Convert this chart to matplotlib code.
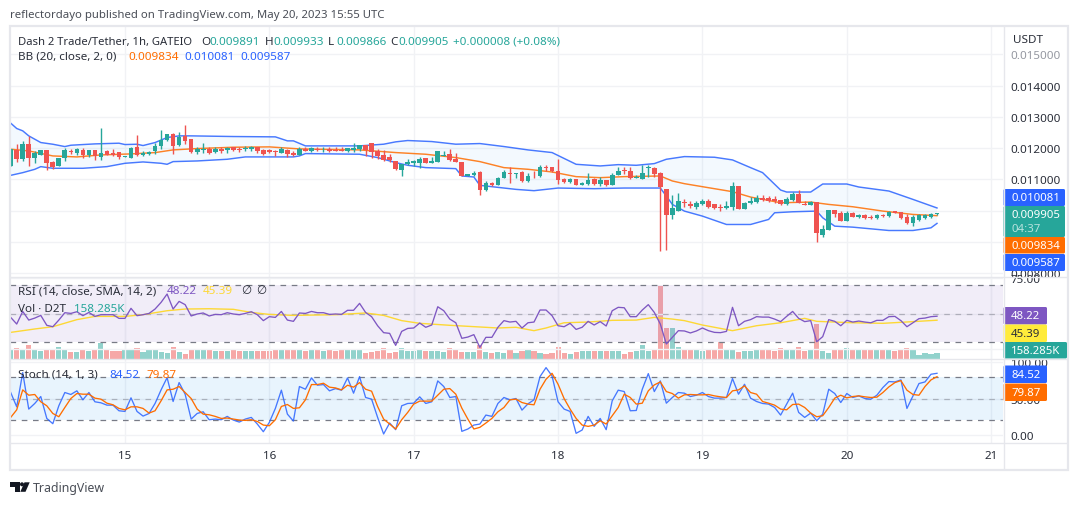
import numpy as np
import matplotlib
matplotlib.use("Agg")
import matplotlib.pyplot as plt
from matplotlib.patches import FancyBboxPatch, Polygon, Circle, Rectangle

W, H = 1079, 506
plt.rcParams['font.family'] = ['Noto Sans', 'DejaVu Sans']

# Prices are in millionths of a USDT; one bar per hour, from 14 May 05:00
opens = [11428,11932,11642,12124,11696,11781,11932,11556,11428,11674,11899,11856,11932,11771,11932,11717,11899,11835,11867,11717,
 11674,12028,11792,11824,11899,12060,12274,12446,12092,12392,12285,11867,11942,11985,11878,11964,11942,12028,11964,11964,
 11964,12028,11932,11932,11910,11835,11932,11846,11781,11964,11910,11964,11932,11964,11942,11942,11910,11932,
 11964,12092,12157,11899,11771,11707,11578,11299,11492,11514,11514,11674,11524,11556,11749,11803,11642,11546,11106,11128,
 11224,10645,10870,10817,11042,11213,11181,11235,10935,11106,11096,11385,11406,11278,11000,10913,11021,10827,10838,11000,
 10849,10967,10817,11138,11299,11278,11042,11021,11374,11353,11192,10677,9841,9970,
 10281,10195,10120,10195,10292,10195,10099,10067,10109,10774,10045,10227,10270,10388,10399,10356,10324,10195,10324,10517,
 10217,10174,10270,9230,9391,10002,9906,9648,9906,9777,9852,9777,9745,9852,9809,9981,9938,9777,9584,9681,9766,9777,9891]
highs = [11964,12124,12232,12392,11910,11932,11932,11588,11696,12017,11985,12017,11996,11932,11932,12660,11942,11964,11867,11738,
 12039,12414,11910,11910,12178,12575,12446,12478,12500,12735,12285,12049,12178,12049,12049,12049,12049,12049,12049,12071,
 12071,12049,11985,11985,11942,12049,11964,11910,12049,12049,12049,12049,12028,12028,12028,12049,12017,12178,
 12103,12103,12157,11964,11942,11803,11578,11503,11642,11621,11728,11674,11728,11899,11910,11964,11835,11546,11170,11256,
 11278,10935,10913,11085,11288,11385,11213,11267,11213,11267,11471,11471,11406,11642,11031,11042,11021,10913,11192,11031,
 11085,10978,11213,11385,11406,11385,11128,11471,11449,11406,11235,10677,10484,10570,
 10356,10313,10302,10356,10356,10217,10195,10292,10903,10774,10260,10431,10485,10485,10463,10452,10345,10420,10603,10645,
 10302,10302,10270,9520,10002,10002,9970,9970,9949,9884,9874,9841,9874,9895,9970,9981,9959,9874,9863,9874,9874,9906,9933]
lows = [11428,11556,11588,11428,11513,11781,11299,11342,11428,11588,11824,11781,11696,11728,11620,11620,11771,11749,11663,11717,
 11674,11749,11749,11781,11824,11964,12232,11803,12071,12124,11856,11803,11856,11803,11856,11835,11856,11910,11878,11910,
 11910,11856,11792,11835,11749,11835,11728,11749,11771,11899,11889,11899,11889,11889,11899,11899,11889,11889,
 11910,11749,11674,11664,11589,11556,11299,11106,11449,11428,11374,11524,11524,11556,11749,11589,11546,11106,11106,11106,
 10495,10613,10785,10806,11031,10881,11042,10913,10913,11053,11063,11267,11245,10838,10870,10892,10817,10806,10817,10827,
 10785,10785,10806,11128,11160,11000,11031,11000,11085,11085,8694,8748,9713,9970,
 10120,10088,10034,10174,10067,10034,9981,10034,10013,10034,10034,10195,10249,10292,10270,10249,10185,10185,10302,10227,
 10163,10163,8984,9145,9391,9777,9648,9648,9777,9745,9734,9734,9734,9777,9788,9916,9734,9563,9488,9670,9713,9756,9866]
closes = [11964,11642,12124,11696,11835,11932,11524,11406,11696,11932,11867,11964,11771,11932,11749,11856,11792,11792,11717,11738,
 11996,11771,11846,11878,12060,12253,12446,12071,12371,12232,11867,11964,11985,11846,11964,11910,11996,11942,11942,11996,
 12028,11910,11814,11867,11889,11985,11814,11781,11964,11921,11996,11932,11953,11921,11921,11921,11996,11996,
 12103,11942,11878,11749,11621,11610,11321,11503,11546,11578,11642,11524,11578,11899,11792,11621,11556,11106,11170,11213,
 10656,10870,10817,11053,11235,11181,11213,10935,11096,11096,11406,11374,11256,10978,10913,11021,10827,10881,10988,10838,
 10967,10817,11149,11278,11278,11031,11074,11213,11396,11170,10752,9841,10066,10302,
 10238,10131,10227,10302,10120,10067,10077,10131,10774,10045,10227,10292,10399,10324,10313,10292,10195,10356,10517,10238,
 10174,10270,9263,9423,10002,9874,9648,9906,9788,9841,9745,9766,9852,9831,9938,9916,9745,9584,9777,9852,9852,9874,9905]

bb_upper_hours = [0,1,2,3,5,7,9,10,14,18,19,21,22,24,26,28,30,37,44,46,47,49,58,62,64,66,70,74,78,82,86,90,94,98,101,104,107,109,112,117,120,123,125,128,129,133,135,139,141,146,150,154]
bb_upper = [12800,12628,12553,12392,12178,12124,12049,12092,12135,12157,12114,12124,12082,12178,12339,12392,12392,12371,12360,12232,12232,12071,12071,12125,12200,12243,12210,12125,12146,12050,11942,11857,11481,11428,11470,11449,11503,11642,11728,11707,11621,11374,11214,10656,10592,10592,10849,10849,10753,10624,10356,10081]
bb_lower_hours = [0,2,4,5,7,12,16,19,22,25,26,27,31,36,39,43,47,48,49,58,61,64,66,69,74,75,77,78,80,84,87,91,97,102,108,109,110,112,115,119,123,126,127,130,134,135,137,140,146,150,153,154]
bb_lower = [11127,11213,11320,11406,11353,11353,11406,11513,11556,11513,11481,11567,11588,11642,11717,11717,11717,11749,11824,11803,11696,11535,11449,11374,11342,11106,11074,10806,10763,10677,10635,10720,10699,10720,10720,10463,10195,9981,9820,9552,9552,9713,9927,9959,9981,9766,9498,9466,9359,9359,9445,9587]
bb_basis_hours = [0,3,7,11,15,20,24,27,31,37,43,48,58,64,69,74,78,82,86,90,94,98,102,108,110,112,116,120,123,128,133,136,140,145,150,154]
bb_basis = [11964,11910,11749,11717,11781,11814,11856,11942,11985,12028,12039,11974,11942,11857,11803,11696,11567,11374,11321,11235,11085,11053,11085,11106,10946,10860,10731,10603,10431,10249,10270,10195,10120,9981,9874,9834]

volume_k = [270,300,240,390,240,220,290,270,330,240,200,200,240,220,240,450,250,210,230,240,
 240,300,180,240,240,200,160,330,200,140,250,240,240,240,220,220,220,240,220,210,
 210,210,230,210,270,240,240,240,240,220,240,240,220,240,220,240,240,240,240,150,
 200,210,300,150,180,300,210,210,240,210,210,210,190,300,280,180,200,200,400,200,150,200,
 150,270,150,220,240,210,170,120,150,330,150,140,190,210,210,210,210,210,210,210,130,180,210,390,210,240,
 2170,920,900,330,240,240,240,210,270,260,480,270,270,180,210,210,240,260,240,210,300,240,240,330,210,240,
 1020,210,150,240,270,300,240,240,240,240,270,240,260,210,240,300,270,100,150,120,158.285]

rsi = [47.4,42.7,51.6,45.5,46.9,48.8,41.8,40.8,45.5,50.7,50.2,51.4,48.6,50.9,48.1,49.3,49.3,49.3,46.7,46.7,
 53.8,48.6,49.3,50.2,53.3,58,63.9,53.3,58.7,56.4,48.4,49.8,50.5,48.4,49.5,49.3,50.7,49.8,49.3,50.2,
 51.4,49.3,45.1,47.9,47.4,51.6,45.5,44.6,50.5,50.2,51.6,50.7,50.7,49.5,49.8,49.5,52.4,52.4,57.3,50.9,
 47.9,41.5,36.6,36.1,27.6,37.5,39.6,39.9,43.4,40.4,42,54.9,52.1,46.2,43.6,32.6,33.5,35.2,26.2,33.3,33.3,40.4,
 45.1,44.1,44.6,39.9,43.6,44.1,52.6,52.6,48.6,41.5,40.8,43.2,38.9,40.4,44.6,42,44.4,41.3,52.1,54.5,54.2,47.9,47.9,52.6,56.4,50.9,42.7,
 28.6,33.3,38,37.8,36.4,37.8,39.9,38,36.8,36.6,37.5,54.5,41.5,44.6,45.8,47.9,47.6,47.6,46.2,44.4,48.1,51.6,46.7,44.4,45.1,
 30.2,33.8,45.8,44.6,41.5,45.3,44.1,44.8,44.1,43.6,45.3,45.3,47.9,48.1,45.1,40.8,43.6,46.5,46.9,47.9,48.22]
rsi_ma_hours = [0,4,7,11,14,19,22,26,29,33,37,40,43,47,54,59,62,65,68,73,81,84,87,89,92,96,100,104,107,110,112,115,120,124,128,132,134,140,145,148,154]
rsi_ma = [36.8,39.2,40.8,45.8,48.1,48.1,49.3,52.1,53.3,53.5,53.1,50.9,49.5,48.8,49.3,50.5,48.8,45.1,43.2,41.8,39.9,40.4,38,39.9,43.6,44.1,45.3,45.5,47.4,46.2,45.1,42,38,41.5,43.6,46.7,44.6,43.6,43.2,43.9,45.39]

stoch_k = [58.2,38.6,85.5,35.5,43.2,52.7,22.7,15.5,40,58.2,55.5,60.5,48.2,58.2,45.5,44.1,40.9,40.9,33.2,32.3,
 50.9,32.3,25.9,29.5,43.2,61.8,78.6,45.9,71.8,55.9,21.8,29.5,31.8,20.9,21.8,20.9,25.5,20.5,17.7,21.8,
 24.1,15,4.5,17.3,36.4,61.4,28.6,19.1,66.4,62.7,78.2,68.2,69.1,60.5,63.6,61.4,78.2,57.3,80,51.4,
 49.1,24.1,1.4,16.4,7.3,40,43.2,43.6,52.3,43.2,45.5,74.1,66.4,51.4,52.7,5,8.2,13.6,15,27.3,25.5,43.2,
 51.4,48.2,50,34.1,42.7,48.2,80,92.3,80.9,45.5,35.5,32.3,2.3,6.8,25.5,11.8,22.7,7.3,46.8,61.4,59.5,33.2,33.6,62.7,84.1,59.5,74.1,
 43.6,51.4,58.2,57.3,52.7,54.5,58.2,52.7,50.5,50.5,51.4,77.3,55.9,69.5,50.5,45.9,43.2,42.3,37.7,27.3,42.3,57.3,30.9,24.1,30,
 19.5,28.6,62.7,56.8,44.5,56.8,51.4,53.6,50,49.1,54.5,65,73.2,72.7,75.5,36.4,53.6,70.5,72.7,83.2,84.52]
stoch_d = [24.1,34.5,61.8,54.5,55.5,45.5,40,29.5,25,37.7,50,56.8,55.9,55.9,50.5,49.1,43.6,41.4,36.4,34.5,
 38.6,38.6,36.4,30,33.2,46.8,61.8,62.7,66.4,58.2,50,35.5,28.6,27.7,25.5,22.7,23.2,21.8,20.5,20,
 20.9,18.6,13.6,12.7,20.9,39.1,41.8,36.4,37.3,48.2,69.1,69.1,70.9,65.5,64.5,61.8,68.2,65.5,71.8,62.7,
 60,39.1,21.8,15,8.2,20.9,30.9,42.3,46.4,46.4,46.4,54.5,62.7,63.6,55.9,36.8,21.8,8.2,10.5,16.4,22.7,31.8,
 37.7,48.2,49.1,44.5,42.3,41.4,62.7,76.4,84.5,69.5,50,35.5,22.7,13.6,11.8,13.6,19.5,15,26.4,37.7,55.9,51.4,42.3,43.6,60.5,68.6,72.7,
 59.5,56.8,50.5,55,55.5,55,55,55.5,53.6,52.3,51.4,60.5,61.8,67.3,58.2,55.9,45.9,43.6,40.9,35.5,34.5,41.8,42.3,37.7,30,25,
 26.4,37.7,50.5,54.5,50.9,52.7,53.6,52.3,51.4,51.8,58.2,65.9,71.8,74.5,61.4,55.5,54.5,66.4,75.5,79.87]

day_hours = [19,43,67,91,115,139,163]
day_labels = ['15','16','17','18','19','20','21']
price_ticks = [8000,9000,10000,11000,12000,13000,14000,15000]
price_tick_labels = ['0.008000','','','0.011000','0.012000','0.013000','0.014000','0.015000']
rsi_ticks = [25,50,75]
rsi_tick_labels = ['','','75.00']
stoch_ticks = [0,50,100]
stoch_tick_labels = ['0.00','50.00','100.00']

for name, a in dict(highs=highs, lows=lows, closes=closes, volume_k=volume_k, rsi=rsi, stoch_k=stoch_k, stoch_d=stoch_d).items():
    assert len(a) == len(opens), (name, len(a), len(opens))

UP, DOWN = '#26a69a', '#ef5350'
BLUE, ORANGE, PURPLE, YELLOW = '#2962ff', '#ff6d00', '#7e57c2', '#ffeb3b'
GRID, FRAME, TEXT = '#f1f2f5', '#e6e7ec', '#2a2e39'
FS = 8.4

hours = np.arange(len(opens))
o, h, l, c = [np.array(a) / 1e6 for a in (opens, highs, lows, closes)]
is_up = c >= o
cols = np.where(is_up, UP, DOWN)

fig = plt.figure(figsize=(W / 100, H / 100), dpi=100, facecolor='white')

def pane(x0, y0, x1, y1, **kw):
    return fig.add_axes([x0 / W, 1 - y1 / H, (x1 - x0) / W, (y1 - y0) / H], **kw)

X0, X1 = 10, 1003
xlim = ((X0 - 10.7) / 6.015, (X1 - 10.7) / 6.015)

ax = pane(X0, 27, X1, 277.5)
ax_vol = pane(X0, 278, X1, 359.5)
ax_rsi = pane(X0, 278, X1, 359.5)
ax_st = pane(X0, 360, X1, 443.5)

for a in (ax, ax_vol, ax_rsi, ax_st):
    a.set_xlim(*xlim)
    a.set_xticks(day_hours)
    a.grid(True, color=GRID, lw=1)
    a.set_axisbelow(True)
    for s in a.spines.values():
        s.set_visible(False)
    a.yaxis.tick_right()
    a.tick_params(length=0, labelsize=FS, labelcolor=TEXT, labelbottom=False, labelleft=False, labelright=True,
                  left=False, right=False, bottom=False)
    a.tick_params(axis='y', pad=5.5)

# price pane
ax.set_ylim((11000 + (180.3 - 277.5) * 32.05) / 1e6, (11000 + (180.3 - 27) * 32.05) / 1e6)
ax.set_yticks([p / 1e6 for p in price_ticks])
ax.set_yticklabels(price_tick_labels)
ax.yaxis.get_major_ticks()[-1].label2.set_color('#9598a1')

ub = np.array(bb_upper) / 1e6
lb = np.array(bb_lower) / 1e6
ax.fill(np.r_[bb_upper_hours, bb_lower_hours[::-1]], np.r_[ub, lb[::-1]], color='#2196f3', alpha=0.05, lw=0, zorder=1)
ax.plot(bb_upper_hours, ub, color=BLUE, lw=1.05, alpha=0.85, zorder=2)
ax.plot(bb_lower_hours, lb, color=BLUE, lw=1.05, alpha=0.85, zorder=2)
ax.plot(bb_basis_hours, np.array(bb_basis) / 1e6, color=ORANGE, lw=1.05, alpha=0.85, zorder=2)
ax.vlines(hours, l, h, colors=cols, lw=1.0, zorder=3)
ax.bar(hours, np.maximum(np.abs(c - o), 2e-5), bottom=np.minimum(o, c), width=0.78, color=cols, lw=0, zorder=4)

# RSI and volume pane
ax_vol.set_ylim(0, 2439)
ax_vol.set_yticks([])
ax_vol.bar(hours, volume_k, width=0.85, color=cols, alpha=0.5, lw=0, zorder=2)
ax_rsi.patch.set_visible(False)
ax_rsi.set_ylim(50 - (359.5 - 314.7) / 1.415, 50 + (314.7 - 278) / 1.415)
ax_rsi.set_yticks(rsi_ticks)
ax_rsi.set_yticklabels(rsi_tick_labels)
ax_rsi.axhspan(30, 70, color=PURPLE, alpha=0.1, lw=0, zorder=1)
for v, a_ in ((70, 1), (50, 0.5), (30, 1)):
    ax_rsi.axhline(v, color='#787b86', lw=0.9, dashes=(4.5, 4.5), alpha=a_, zorder=2)
ax_rsi.plot(rsi_ma_hours, rsi_ma, color='#fdd835', lw=1.0, zorder=3)
ax_rsi.plot(hours, rsi, color=PURPLE, lw=0.95, zorder=4)

# stochastic pane
ax_st.set_ylim(50 - (443.5 - 399.5) / 0.73, 50 + (399.5 - 360) / 0.73)
ax_st.set_yticks(stoch_ticks)
ax_st.set_yticklabels(stoch_tick_labels)
ax_st.axhspan(20, 80, color='#2196f3', alpha=0.1, lw=0, zorder=1)
for v, a_ in ((80, 1), (50, 0.5), (20, 1)):
    ax_st.axhline(v, color='#787b86', lw=0.9, dashes=(4.5, 4.5), alpha=a_, zorder=2)
ax_st.plot(hours, stoch_k, color=BLUE, lw=0.95, alpha=0.85, zorder=3)
ax_st.plot(hours, stoch_d, color=ORANGE, lw=0.95, zorder=4)
ax_st.set_xticks(day_hours)
ax_st.set_xticklabels(day_labels)
ax_st.tick_params(axis='x', labelbottom=True, pad=5.5)

# overlay in pixel coordinates for frame, tags and header texts
ov = fig.add_axes([0, 0, 1, 1], zorder=10)
ov.set_xlim(0, W)
ov.set_ylim(H, 0)
ov.axis('off')
ov.patch.set_visible(False)

ov.add_patch(Rectangle((9.5, 26.5), 1058, 444, fill=False, ec=FRAME, lw=1.6))
ov.plot([1003.5, 1003.5], [27, 470], color=FRAME, lw=1)
for y in (277.5, 359.7, 443.7):
    ov.plot([10, 1067], [y, y], color=FRAME, lw=1)

def txt(x, y, s, color=TEXT, size=FS, **kw):
    ov.text(x, y, s, color=color, fontsize=size, va='center', ha=kw.pop('ha', 'left'), **kw)

def tag(y0, y1, color, label, tc='white', x1=1065, sub=None):
    ov.add_patch(FancyBboxPatch((1003.5, y0), x1 - 1003.5, y1 - y0, boxstyle='round,pad=0,rounding_size=1.5',
                                fc=color, ec='none'))
    txt(1011, (y0 + y1) / 2 if sub is None else y0 + 8, label, color=tc, size=8.2, fontweight='medium')
    if sub:
        txt(1011, y0 + 23, sub, color='#b7e2dd', size=8.2)

txt(10, 15, 'reflectordayo published on TradingView.com, May 20, 2023 15:55 UTC', color='#4a4e57', size=8.2)
txt(18, 42, 'Dash 2 Trade/Tether, 1h, GATEIO', size=8.1)
for x, lab, val in ((201, 'O', '0.009891'), (265, 'H', '0.009933'), (328, 'L', '0.009866'), (390, 'C', '0.009905')):
    txt(x, 42, lab)
    txt(x + 8, 42, val, color=UP)
txt(453, 42, '+0.000008 (+0.08%)', color=UP)
txt(18, 57, 'BB (20, close, 2, 0)')
txt(128, 57, '0.009834', color=ORANGE)
txt(184, 57, '0.010081', color=BLUE)
txt(240, 57, '0.009587', color=BLUE)
txt(1013, 40, 'USDT')

txt(18, 292, 'RSI (14, close, SMA, 14, 2)')
txt(167, 292, '48.22', color=PURPLE)
txt(203, 292, '45.39', color='#fdd835')
txt(241, 292, '\u2205')
txt(256, 292, '\u2205')
txt(18, 310, 'Vol \u00b7 D2T')
txt(74, 310, '158.285K', color=UP)
txt(18, 375, 'Stoch (14, 1, 3)')
txt(109, 375, '84.52', color=BLUE)
txt(146, 375, '79.87', color=ORANGE)

tag(190, 207, BLUE, '0.010081')
tag(207, 238, UP, '0.009905', sub='04:37')
tag(238, 254.5, ORANGE, '0.009834')
tag(255, 272, BLUE, '0.009587')
tag(308, 325.5, PURPLE, '48.22', x1=1047)
tag(325.5, 343, YELLOW, '45.39', tc=TEXT, x1=1047)
tag(343, 359.5, UP, '158.285K', x1=1067)
tag(366.5, 384, BLUE, '84.52', x1=1047)
tag(384.5, 402, ORANGE, '79.87', x1=1047)

# TradingView mark
LOGO = '#131722'
ov.add_patch(Polygon([(10, 483.3), (19.5, 483.3), (19.5, 492.8), (15, 492.8), (15, 487.5), (10, 487.5)], fc=LOGO, ec='none'))
ov.add_patch(Circle((22, 485.3), 2.0, fc=LOGO, ec='none'))
ov.add_patch(Polygon([(24.5, 483.3), (29.7, 483.3), (25.5, 492.8), (20.3, 492.8)], fc=LOGO, ec='none'))
txt(33, 488.5, 'TradingView', color='#4a4e57', size=8.9)

fig.savefig('out.png', dpi=100)
